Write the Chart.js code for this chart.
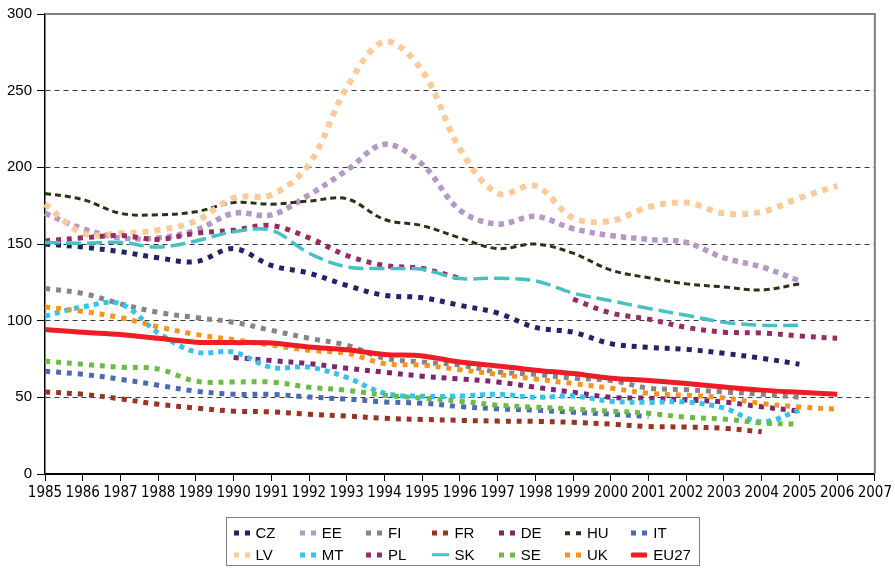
<!DOCTYPE html>
<html><head><meta charset="utf-8">
<script src="https://cdn.jsdelivr.net/npm/chart.js@4.4.0/dist/chart.umd.min.js"></script>
<style>
html,body{margin:0;padding:0;background:#fff;}
#wrap{position:relative;width:895px;height:568px;overflow:hidden;}
#legend{position:absolute;left:226px;top:517px;width:474px;height:49px;border:1.5px solid #7f7f7f;box-sizing:border-box;font-family:'Liberation Sans',Arial,sans-serif;font-size:15px;color:#000;}
.item{position:absolute;height:18px;}
.mk{position:absolute;top:50%;transform:translateY(-50%);}
.tx{position:absolute;left:22px;top:0;line-height:18px;white-space:nowrap;}
</style></head>
<body><div id="wrap"><canvas id="c" width="895" height="568"></canvas><div id="legend"></div></div>
<script>
const years = ['1985','1986','1987','1988','1989','1990','1991','1992','1993','1994','1995','1996','1997','1998','1999','2000','2001','2002','2003','2004','2005','2006','2007'];
const yTicks = [0,50,100,150,200,250,300];

const CZ = [150,148,145,141,138.5,147,136,131,123,116.5,115,110,105,95.6,92.5,85,82.6,81.3,78.7,75.5,71.6,null];
const EE = [170,160,154,154,159,170,169,182,198,215,202,172,163,168,160,155.5,153,151,141,135,126,null];
const FI = [121,117.8,111,105.4,102,99,93.7,88.5,84,75.5,73,71,66.5,65,62.5,61,56,55,53.5,52,50,null];
const FR = [53.5,52,49,45.5,43,41,40.5,39,37.8,36.3,35.6,35,34.5,34.3,33.7,32.5,31,30.6,29.8,27.5,null,null];
const DE = [null,null,null,null,null,76,74,72,69,66.4,63.8,62,60,56.6,53.3,50,49.4,48.3,47,43.8,41,null];
const HU = [183,179,170,169,171,177,176,178,179.5,166,162,154,147,150,144,133,128,124,122,120,124,null];
const IT = [67,65,61.8,57.9,54,52,52,50.2,48.8,47,46.2,44,42.5,41.6,40.3,39,37.5,null,null,null,null,null];
const LV = [176,157,157,159,165,180,182,202,252,282,263,212,183,188,167,165,174,177,170,171,180,188];
const MT = [103,109,111,92,79.5,79.5,69.5,69.7,63,52.6,50.7,50.8,52,50,50.8,47.5,46.7,47,43,34,41.6,null];
const PL = [152,154,155.5,153,157,159,162,154,142.5,136,134,127.5,null,null,114,105,101,95.6,92.5,92,90,88.5];
const SK = [151,150.5,151,148,152,158,159,144,135,134,133.5,127.5,127.7,126,118,113,108,103.5,99,97,97,null];
const SE = [73.6,71.6,69.6,68.5,60.5,60,60,56.6,54.6,51.4,49.5,47.5,44.9,43.6,42.3,41,39.6,37,35.8,33.3,32.5,null];
const UK = [109,106,102,96,91,87.6,84,80.7,78.7,72,71,68,65,62,59,56,52.6,51.4,49.6,46,43.7,42.3];
const EU27 = [94.3,92.4,91,88.5,86,85.7,85.4,82.8,81,78,77,73,70.5,67.7,65.5,62.5,61,59,56.8,54.7,53.3,52];

const seriesNames = ['CZ','EE','FI','FR','DE','HU','IT','LV','MT','PL','SK','SE','UK','EU27'];
const seriesData = [CZ,EE,FI,FR,DE,HU,IT,LV,MT,PL,SK,SE,UK,EU27];

// styles (kept apart from data)
const styles = {
  CZ:  {color:'#222266', kind:'dot', w:5, dash:[5,6]},
  EE:  {color:'#b598c8', kind:'dot', w:5.5, dash:[5.5,5]},
  FI:  {color:'#858585', kind:'dot', w:5, dash:[5,6]},
  FR:  {color:'#993322', kind:'dot', w:5, dash:[5,6]},
  DE:  {color:'#7d2473', kind:'dot', w:5, dash:[5,6]},
  HU:  {color:'#2c3117', kind:'dash', w:3, dash:[6,4]},
  IT:  {color:'#4a6ab4', kind:'dot', w:5, dash:[5,6]},
  LV:  {color:'#fdca98', kind:'dot', w:6, dash:[6,6]},
  MT:  {color:'#36c2ef', kind:'dot', w:5, dash:[5,5]},
  PL:  {color:'#962c62', kind:'dot', w:5, dash:[5,6]},
  SK:  {color:'#45c1c3', kind:'long', w:3.5, dash:[15,6]},
  SE:  {color:'#69bc45', kind:'dot', w:5, dash:[5,6]},
  UK:  {color:'#f7941e', kind:'dot', w:5, dash:[5,6]},
  EU27:{color:'#ee1c25', kind:'solid', w:5, dash:[]}
};

const datasets = seriesNames.map((n,i)=>({
  label:n,
  data:seriesData[i],
  borderColor:styles[n].color,
  backgroundColor:styles[n].color,
  borderWidth:styles[n].w,
  borderDash:styles[n].dash,
  borderCapStyle:'butt',
  borderJoinStyle:'miter',
  pointRadius:0,
  pointHoverRadius:0,
  tension:0.35,
  spanGaps:false,
  fill:false,
  order:seriesNames.length - i
}));

const framePlugin = {
  id:'frame',
  beforeDatasetsDraw(chart){
    const {ctx, chartArea:a} = chart;
    ctx.save();
    ctx.strokeStyle = '#808080';
    ctx.lineWidth = 2;
    ctx.beginPath();
    ctx.moveTo(a.left, a.top);
    ctx.lineTo(a.right, a.top);
    ctx.lineTo(a.right, a.bottom);
    ctx.stroke();
    ctx.restore();
  }
};

const narrow = "'Liberation Sans Narrow','Arial Narrow','DejaVu Sans Condensed',sans-serif";
const sans = "'Liberation Sans',Arial,sans-serif";

new Chart(document.getElementById('c'), {
  type:'line',
  data:{labels:years, datasets},
  options:{
    responsive:false,
    animation:false,
    layout:{padding:{top:13,right:17,bottom:54,left:0}},
    plugins:{legend:{display:false}, tooltip:{enabled:false}},
    scales:{
      x:{
        type:'category',
        offset:false,
        grid:{drawOnChartArea:false, drawTicks:true, tickLength:7, tickColor:'#000', tickWidth:1},
        border:{display:true, color:'#000', width:2},
        ticks:{color:'#000', font:{family:narrow, size:15}, padding:3, maxRotation:0, autoSkip:false},
        afterFit(s){ s.height = 40; }
      },
      y:{
        min:0, max:300,
        afterBuildTicks(s){ s.ticks = yTicks.map(v=>({value:v})); },
        grid:{
          color:(c)=> (c.tick && (c.tick.value===0 || c.tick.value===300)) ? 'rgba(0,0,0,0)' : '#3a3a3a',
          lineWidth:1, tickLength:8, tickColor:'#000', tickWidth:1, tickBorderDash:[]
        },
        border:{display:true, color:'#000', width:1.5, dash:[5,4]},
        ticks:{color:'#000', font:{family:sans, size:15}, padding:5},
        afterFit(s){ s.width = 45; }
      }
    }
  },
  plugins:[framePlugin]
});

// HTML legend built from the series list
const legend = document.getElementById('legend');
seriesNames.forEach((n,i)=>{
  const st = styles[n];
  const col = i % 7, row = Math.floor(i/7);
  const it = document.createElement('div');
  it.className = 'item';
  it.style.left = (6.5 + col*66.3) + 'px';
  it.style.top = (6 + row*21.6) + 'px';
  const mk = document.createElement('div');
  mk.className = 'mk';
  if (st.kind==='dot' || st.kind==='dash') {
    const h = st.kind==='dash' ? 3.5 : 5;
    mk.style.width='16px'; mk.style.height=h+'px';
    mk.style.background = `linear-gradient(to right, ${st.color} 0 5px, transparent 5px 11px, ${st.color} 11px 16px)`;
  } else if (st.kind==='long') {
    mk.style.width='17px'; mk.style.height='3.5px'; mk.style.background=st.color;
  } else {
    mk.style.width='16px'; mk.style.height='5px'; mk.style.background=st.color; mk.style.borderRadius='1px';
  }
  const tx = document.createElement('div');
  tx.className='tx'; tx.textContent=n;
  it.appendChild(mk); it.appendChild(tx);
  legend.appendChild(it);
});
</script>
</body></html>
